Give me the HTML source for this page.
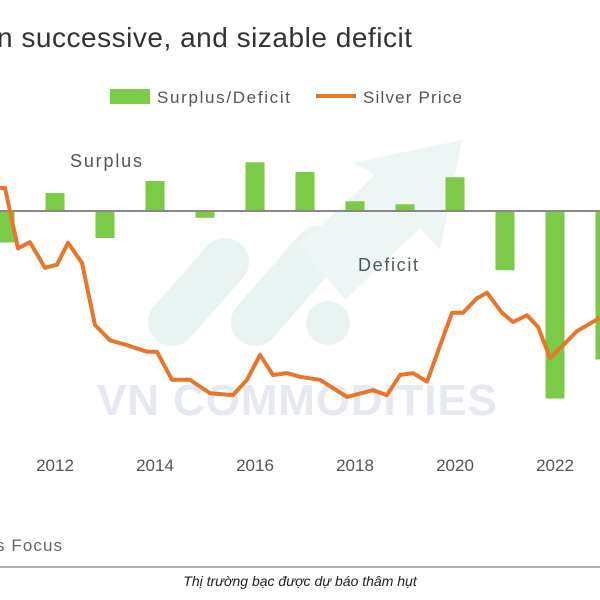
<!DOCTYPE html>
<html><head><meta charset="utf-8"><style>
body{margin:0;width:600px;height:600px;background:#fff;overflow:hidden;font-family:"Liberation Sans",sans-serif}
svg{position:absolute;left:0;top:0}
</style></head><body>
<svg width="600" height="600">
<g>
<line x1="225" y1="262" x2="172" y2="322" stroke="#e9f4f2" stroke-width="48" stroke-linecap="round"/>
<line x1="318" y1="250" x2="255" y2="322" stroke="#e9f4f2" stroke-width="48" stroke-linecap="round"/>
<polygon points="300,245 375,175 352,163 462,140 440,250 420,228 345,300" fill="#edf6f4"/>
<circle cx="328" cy="323" r="22" fill="#e9f4f2"/>
<text x="97" y="415" font-size="44" font-weight="bold" fill="#e6e9ef" textLength="400">VN COMMODITIES</text>
</g>
<text x="-3" y="47" font-size="28" fill="#333" textLength="415">n successive, and sizable deficit</text>
<rect x="110" y="89" width="40" height="15" fill="#7ccb46"/>
<text x="157" y="103" font-size="17" fill="#555" textLength="133">Surplus/Deficit</text>
<line x1="316" y1="96" x2="356" y2="96" stroke="#e8752a" stroke-width="4"/>
<text x="363" y="103" font-size="17" fill="#555" textLength="99">Silver Price</text>
<text x="70" y="167" font-size="18" fill="#555" textLength="72">Surplus</text>
<text x="358" y="271" font-size="18" fill="#4a5a5a" textLength="60">Deficit</text>
<g id="bars"></g>
<line x1="0" y1="211" x2="600" y2="211" stroke="#888" stroke-width="2"/>
<path id="price" fill="none" stroke="#e8752a" stroke-width="4" stroke-linejoin="round"/>
<g id="ticks"></g>
<text x="-4" y="551" font-size="17" fill="#666" textLength="66">s Focus</text>
<line x1="0" y1="567" x2="600" y2="567" stroke="#999" stroke-width="1.5"/>
<text x="300" y="586" font-size="14" font-style="italic" text-anchor="middle" fill="#222" font-family="'Liberation Sans','Noto Sans CJK SC',sans-serif">Thị trường bạc được dự báo thâm hụt</text>
</svg>
<script>
const barYears=[2011,2012,2013,2014,2015,2016,2017,2018,2019,2020,2021,2022,2023];
const barValues=[-42,24,-36,40,-9,65,52,13,9,45,-79,-250,-198];
const priceTimes=[2010.9,2011.0,2011.26,2011.5,2011.8,2012.04,2012.26,2012.54,2012.8,2013.1,2013.44,2013.84,2014.04,2014.34,2014.7,2015.1,2015.56,2015.84,2016.1,2016.36,2016.64,2016.9,2017.3,2017.84,2018.36,2018.64,2018.9,2019.16,2019.44,2019.94,2020.16,2020.44,2020.64,2020.94,2021.16,2021.44,2021.66,2021.9,2022.2,2022.44,2022.9];
const priceValues=[48,48,38.1,39.1,34.9,35.4,39.0,35.7,25.5,23.0,22.2,21.1,21.1,16.5,16.5,14.3,14.0,16.5,20.6,17.3,17.6,17.0,16.5,13.7,14.8,14.0,17.3,17.6,16.2,27.5,27.5,29.9,30.8,27.5,26.0,27.1,25.2,20.1,22.5,24.5,26.7];
const tickLabels=["2012","2014","2016","2018","2020","2022"];
const xs=t=>55+(t-2012)*50;
const yb=v=>211-v*0.75;
const yp=p=>188+(48-p)*6.09;
const NS="http://www.w3.org/2000/svg";
const bg=document.getElementById('bars');
barYears.forEach((yr,i)=>{
  const r=document.createElementNS(NS,'rect');
  const v=barValues[i];
  r.setAttribute('x',xs(yr)-9.5);r.setAttribute('width',19);
  r.setAttribute('y',Math.min(yb(v),211));r.setAttribute('height',Math.abs(yb(v)-211));
  r.setAttribute('fill','#7ccb46');
  
  
  bg.appendChild(r);
});
document.getElementById('price').setAttribute('d',priceTimes.map((t,i)=>(i?'L':'M')+xs(t).toFixed(1)+','+yp(priceValues[i]).toFixed(1)).join(' '));
const tg=document.getElementById('ticks');
tickLabels.forEach(l=>{
  const t=document.createElementNS(NS,'text');
  t.setAttribute('x',xs(+l));t.setAttribute('y',471);
  t.setAttribute('text-anchor','middle');t.setAttribute('font-size','17');t.setAttribute('fill','#555');
  t.textContent=l;
  
  
  tg.appendChild(t);
});
</script>
</body></html>
